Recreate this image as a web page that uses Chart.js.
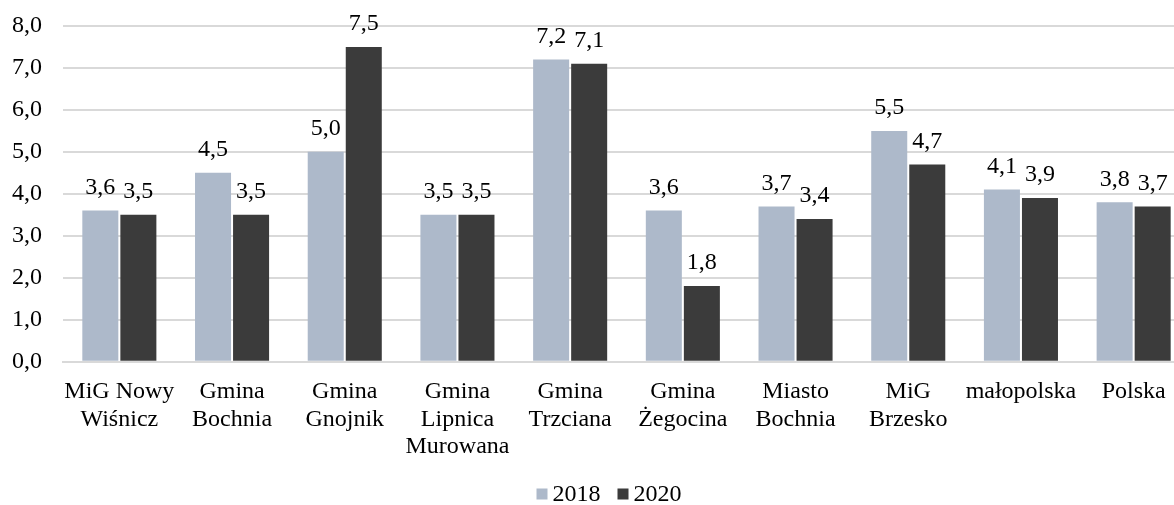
<!DOCTYPE html>
<html>
<head>
<meta charset="utf-8">
<script src="https://cdn.jsdelivr.net/npm/chart.js@4"></script>
<style>
  html, body { margin: 0; padding: 0; background: #fff; overflow: hidden; }
  #wrap { width: 1192px; height: 505px; }
</style>
</head>
<body>
<div id="wrap"><canvas id="chart"></canvas></div>
<script>
const categories = [
  ['MiG Nowy', 'Wiśnicz'],
  ['Gmina', 'Bochnia'],
  ['Gmina', 'Gnojnik'],
  ['Gmina', 'Lipnica', 'Murowana'],
  ['Gmina', 'Trzciana'],
  ['Gmina', 'Żegocina'],
  ['Miasto', 'Bochnia'],
  ['MiG', 'Brzesko'],
  'małopolska',
  'Polska'
];
const values2018 = [3.6, 4.5, 5.0, 3.5, 7.2, 3.6, 3.7, 5.5, 4.1, 3.8];
const values2020 = [3.5, 3.5, 7.5, 3.5, 7.1, 1.8, 3.4, 4.7, 3.9, 3.7];
const yTicks = [0, 1, 2, 3, 4, 5, 6, 7, 8];

const fmt = v => v.toFixed(1).replace('.', ',');
const FONT = "'Liberation Serif', 'Times New Roman', serif";
const FS = 24;

// etykiety nad słupkami
const valueLabels = {
  id: 'valueLabels',
  afterDatasetsDraw(chart) {
    const ctx = chart.ctx;
    ctx.save();
    ctx.font = FS + 'px ' + FONT;
    ctx.fillStyle = '#000';
    ctx.textAlign = 'center';
    ctx.textBaseline = 'middle';
    chart.data.datasets.forEach((ds, i) => {
      chart.getDatasetMeta(i).data.forEach((bar, j) => {
        ctx.fillText(fmt(ds.data[j]), bar.x, bar.y - 23);
      });
    });
    ctx.restore();
  }
};

// legenda jak w Excelu (mały kwadrat tuż przy tekście)
const smallLegend = {
  id: 'smallLegend',
  afterDraw(chart) {
    const ctx = chart.ctx;
    ctx.save();
    ctx.font = FS + 'px ' + FONT;
    ctx.textBaseline = 'middle';
    const y = chart.height - 10;
    const box = 11, gap = 5, itemGap = 17;
    const items = chart.data.datasets.map(ds => ({ text: ds.label, color: ds.backgroundColor, w: ctx.measureText(ds.label).width }));
    const total = items.reduce((s, it) => s + box + gap + it.w, 0) + itemGap * (items.length - 1);
    let x = chart.width / 2 + 13 - total / 2;
    items.forEach(it => {
      ctx.fillStyle = it.color;
      ctx.fillRect(x, y - box / 2 - 1, box, box);
      x += box + gap;
      ctx.fillStyle = '#000';
      ctx.textAlign = 'left';
      ctx.fillText(it.text, x, y);
      x += it.w + itemGap;
    });
    ctx.restore();
  }
};

new Chart(document.getElementById('chart'), {
  type: 'bar',
  data: {
    labels: categories,
    datasets: [
      { label: '2018', data: values2018, backgroundColor: '#ADB9CA' },
      { label: '2020', data: values2020, backgroundColor: '#3B3B3B' }
    ]
  },
  options: {
    responsive: true,
    maintainAspectRatio: false,
    animation: false,
    layout: { padding: { top: 0, right: 2, left: 4, bottom: 28 } },
    datasets: { bar: { categoryPercentage: 0.675, barPercentage: 0.947 } },
    scales: {
      x: {
        grid: { display: false, drawTicks: false },
        border: { color: '#D9D9D9', width: 2 },
        ticks: { color: '#000', font: { family: FONT, size: FS, lineHeight: 1.13 }, padding: 17, maxRotation: 0, autoSkip: false }
      },
      y: {
        min: 0,
        max: 8,
        afterBuildTicks: axis => { axis.ticks = yTicks.map(v => ({ value: v })); },
        afterFit: axis => { axis.width = 59; axis.paddingTop = 26; axis.paddingBottom = 15; },
        grid: { color: '#D9D9D9', lineWidth: 2, drawTicks: false },
        border: { display: false },
        ticks: { color: '#000', font: { family: FONT, size: FS }, padding: 21, callback: v => fmt(v) }
      }
    },
    plugins: {
      legend: { display: false },
      tooltip: { enabled: false }
    }
  },
  plugins: [valueLabels, smallLegend]
});
</script>
</body>
</html>
